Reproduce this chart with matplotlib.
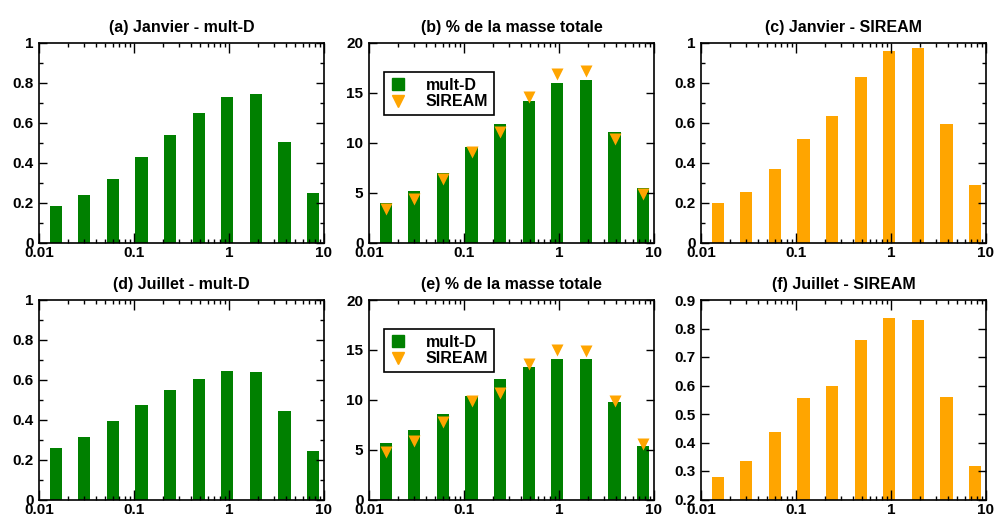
import matplotlib
matplotlib.use("Agg")
import matplotlib.pyplot as plt
import numpy as np
from matplotlib.ticker import FixedLocator, MultipleLocator, FuncFormatter, LogLocator

plt.rcParams["font.family"] = ["Liberation Sans", "DejaVu Sans"]
plt.rcParams["font.weight"] = "bold"
plt.rcParams["font.size"] = 11

# ---------------------------------------------------------------- data
# diameter bin centres (log scale)
diam = [0.015, 0.03, 0.06, 0.12, 0.24, 0.48, 0.96, 1.92, 3.84, 7.68]

jan_multd = [0.181, 0.236, 0.319, 0.428, 0.540, 0.647, 0.729, 0.744, 0.505, 0.247]
jan_siream = [0.197, 0.254, 0.370, 0.518, 0.632, 0.831, 0.958, 0.977, 0.595, 0.288]
jan_pct_multd = [3.98, 5.15, 6.96, 9.57, 11.87, 14.18, 15.95, 16.29, 11.07, 5.42]
jan_pct_siream = [3.33, 4.38, 6.35, 9.03, 11.04, 14.6, 16.86, 17.19, 10.37, 4.88]

jul_multd = [0.258, 0.314, 0.391, 0.473, 0.547, 0.605, 0.642, 0.639, 0.443, 0.244]
jul_siream = [0.278, 0.336, 0.438, 0.556, 0.600, 0.758, 0.836, 0.830, 0.558, 0.319]
jul_pct_multd = [5.65, 6.96, 8.56, 10.4, 12.04, 13.31, 14.11, 14.05, 9.77, 5.38]
jul_pct_siream = [4.75, 5.89, 7.73, 9.87, 10.67, 13.55, 14.95, 14.85, 9.9, 5.52]

GREEN = "#008000"
ORANGE = "#ffa500"
HALF = 1.16  # multiplicative half-width of bars on the log axis
FS = 11.5     # titles / legend
TFS = 11      # tick labels


def style_axis(ax, ylim, ymajor, yminor=None):
    ax.set_xscale("log")
    ax.set_xlim(0.01, 10)
    ax.set_ylim(*ylim)
    ax.xaxis.set_major_locator(FixedLocator([0.01, 0.1, 1, 10]))
    ax.xaxis.set_minor_locator(LogLocator(base=10, subs=np.arange(2, 10)))
    ax.xaxis.set_major_formatter(FuncFormatter(lambda v, p: f"{v:g}"))
    ax.yaxis.set_major_locator(MultipleLocator(ymajor))
    if yminor:
        ax.yaxis.set_minor_locator(MultipleLocator(yminor))
    ax.yaxis.set_major_formatter(FuncFormatter(lambda v, p: f"{v:g}"))
    ax.tick_params(which="both", direction="in", top=True, right=True,
                   width=1.0, labelsize=TFS)
    ax.tick_params(axis="x", which="both", pad=2.5)
    ax.tick_params(axis="x", which="major", length=7.5)
    ax.tick_params(axis="y", which="major", length=5.5, pad=4)
    ax.tick_params(which="minor", length=3)
    for sp in ax.spines.values():
        sp.set_linewidth(1.2)


def bars(ax, vals, color):
    x = np.array(diam)
    left = x / HALF
    ax.bar(left, vals, width=x * HALF - left, align="edge", color=color,
           edgecolor="none")


fig = plt.figure(figsize=(9.94, 5.18), dpi=100)
W, H = 994, 518
lefts = [39, 369, 701]
width = 285
tops = [43, 300]
height = 199.5

axes = []
for r in range(2):
    row = []
    for c in range(3):
        ax = fig.add_axes([lefts[c] / W, 1 - (tops[r] + height) / H,
                           width / W, height / H])
        row.append(ax)
    axes.append(row)

panels = [
    ("(a) Janvier - mult-D", "(b) % de la masse totale", "(c) Janvier - SIREAM",
     jan_multd, jan_pct_multd, jan_pct_siream, jan_siream, (0, 1), 0.2, 0.1),
    ("(d) Juillet - mult-D", "(e) % de la masse totale", "(f) Juillet - SIREAM",
     jul_multd, jul_pct_multd, jul_pct_siream, jul_siream, (0.2, 0.9), 0.1, None),
]

for r, (t1, t2, t3, md, pmd, psi, si, ylim3, maj3, min3) in enumerate(panels):
    a1, a2, a3 = axes[r]

    bars(a1, md, GREEN)
    style_axis(a1, (0, 1), 0.2, 0.1)
    a1.set_title(t1, fontweight="bold", fontsize=FS, pad=8)

    bars(a2, pmd, GREEN)
    a2.plot(diam, psi, linestyle="none", marker="v", markersize=9,
            color=ORANGE, markeredgecolor="none")
    style_axis(a2, (0, 20), 5)
    a2.set_title(t2, fontweight="bold", fontsize=FS, pad=8)
    h1 = a2.plot([], [], linestyle="none", marker="s", markersize=9,
                 color=GREEN)[0]
    h2 = a2.plot([], [], linestyle="none", marker="v", markersize=9,
                 color=ORANGE)[0]
    leg = a2.legend([h1, h2], ["mult-D", "SIREAM"], loc="upper left",
                    bbox_to_anchor=(0.053, 0.855), borderaxespad=0,
                    fancybox=False, edgecolor="black", framealpha=1,
                    fontsize=FS, handlelength=1.0, handletextpad=1.25,
                    borderpad=0.35, labelspacing=0.1)
    leg.get_frame().set_linewidth(1.2)

    bars(a3, si, ORANGE)
    style_axis(a3, ylim3, maj3, min3)
    a3.set_title(t3, fontweight="bold", fontsize=FS, pad=8)

fig.savefig("out.png", dpi=100)
